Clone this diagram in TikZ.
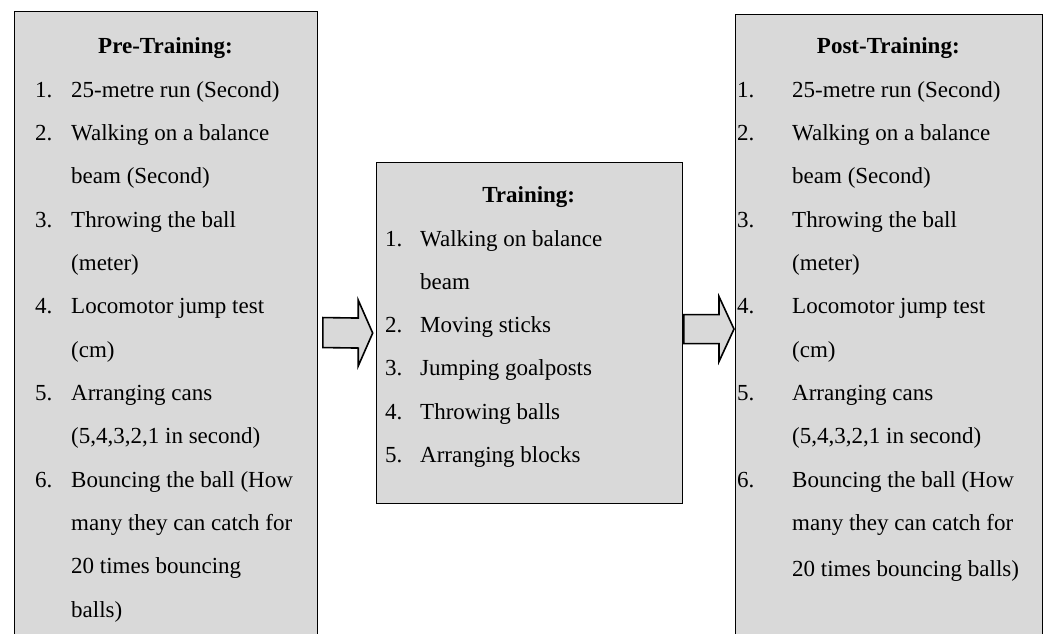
\documentclass[tikz,border=0pt]{standalone}
\usepackage{fontspec}
\setmainfont{Liberation Serif}
\usetikzlibrary{calc}
\definecolor{boxgray}{HTML}{D9D9D9}
\begin{document}
\begin{tikzpicture}[x=1pt,y=-1pt,
  box/.style={draw=black, line width=1.1pt, fill=boxgray, anchor=north west, inner sep=0pt},
  txt/.style={anchor=base west, inner sep=0pt, font=\fontsize{23}{27}\selectfont},
  ttl/.style={anchor=base, inner sep=0pt, font=\fontsize{23}{27}\selectfont\bfseries},
  barrow/.style={draw=black, line width=1.6pt, fill=boxgray, line join=miter}]
\useasboundingbox (0,0) rectangle (1047,634);
% boxes
\node[box, minimum width=303pt, minimum height=642pt] (pre) at (14,11) {};
\node[box, minimum width=306pt, minimum height=341.6pt] (train) at (375.7,161.7) {};
\node[box, minimum width=306.7pt, minimum height=629pt] (post) at (735,14) {};
% block arrows
\coordinate (a1s) at ($(pre.east)+(4.7,0)$);
\coordinate (a1t) at ($(train.west)+(-3,0)$);
\coordinate (a2s) at ($(train.east |- post.west)+(1,0)$);
\coordinate (a2t) at ($(post.west)+(-1,0)$);
\draw[barrow] ($(a1s)+(0,-15)$) -- ($(a1t)+(-14.5,-15)$) -- ($(a1t)+(-14.5,-33)$) -- (a1t)
  -- ($(a1t)+(-14.5,33)$) -- ($(a1t)+(-14.5,15)$) -- ($(a1s)+(0,15)$) -- cycle;
\draw[barrow] ($(a2s)+(0,-14.5)$) -- ($(a2t)+(-15,-14.5)$) -- ($(a2t)+(-15,-32.5)$) -- (a2t)
  -- ($(a2t)+(-15,32.5)$) -- ($(a2t)+(-15,14.5)$) -- ($(a2s)+(0,14.5)$) -- cycle;
% Pre-Training
\node[ttl] (preT) at (165.5,53.7) {Pre-Training:};
\node[txt] (pn1) at (35,97.0) {1.};   \node[txt] (pl1) at (71,97.0) {25-metre run (Second)};
\node[txt] (pn2) at (35,140.4) {2.};  \node[txt] (pl2) at (71,140.4) {Walking on a balance};
                                       \node[txt] (pl3) at (71,183.7) {beam (Second)};
\node[txt] (pn3) at (35,227.1) {3.};  \node[txt] (pl4) at (71,227.1) {Throwing the ball};
                                       \node[txt] (pl5) at (71,270.4) {(meter)};
\node[txt] (pn4) at (35,313.8) {4.};  \node[txt] (pl6) at (71,313.8) {Locomotor jump test};
                                       \node[txt] (pl7) at (71,357.1) {(cm)};
\node[txt] (pn5) at (35,400.5) {5.};  \node[txt] (pl8) at (71,400.5) {Arranging cans};
                                       \node[txt] (pl9) at (71,443.8) {(5,4,3,2,1 in second)};
\node[txt] (pn6) at (35,487.2) {6.};  \node[txt] (pl10) at (71,487.2) {Bouncing the ball (How};
                                       \node[txt] (pl11) at (71,530.5) {many they can catch for};
                                       \node[txt] (pl12) at (71,573.9) {20 times bouncing};
                                       \node[txt] (pl13) at (71,617.2) {balls)};
% Training
\node[ttl] (trT) at (528.7,202) {Training:};
\node[txt] (tn1) at (385,246) {1.};   \node[txt] (tl1) at (420,246) {Walking on balance};
                                       \node[txt] (tl2) at (420,289.3) {beam};
\node[txt] (tn2) at (385,332.6) {2.}; \node[txt] (tl3) at (420,332.6) {Moving sticks};
\node[txt] (tn3) at (385,375.9) {3.}; \node[txt] (tl4) at (420,375.9) {Jumping goalposts};
\node[txt] (tn4) at (385,419.2) {4.}; \node[txt] (tl5) at (420,419.2) {Throwing balls};
\node[txt] (tn5) at (385,462.5) {5.}; \node[txt] (tl6) at (420,462.5) {Arranging blocks};
% Post-Training
\node[ttl] (postT) at (888.3,53.7) {Post-Training:};
\node[txt] (qn1) at (737,97.0) {1.};  \node[txt] (ql1) at (792,97.0) {25-metre run (Second)};
\node[txt] (qn2) at (737,140.4) {2.}; \node[txt] (ql2) at (792,140.4) {Walking on a balance};
                                       \node[txt] (ql3) at (792,183.7) {beam (Second)};
\node[txt] (qn3) at (737,227.1) {3.}; \node[txt] (ql4) at (792,227.1) {Throwing the ball};
                                       \node[txt] (ql5) at (792,270.4) {(meter)};
\node[txt] (qn4) at (737,313.8) {4.}; \node[txt] (ql6) at (792,313.8) {Locomotor jump test};
                                       \node[txt] (ql7) at (792,357.1) {(cm)};
\node[txt] (qn5) at (737,400.5) {5.}; \node[txt] (ql8) at (792,400.5) {Arranging cans};
                                       \node[txt] (ql9) at (792,443.8) {(5,4,3,2,1 in second)};
\node[txt] (qn6) at (737,487.2) {6.}; \node[txt] (ql10) at (792,487.2) {Bouncing the ball (How};
                                       \node[txt] (ql11) at (792,530.5) {many they can catch for};
                                       \node[txt] (ql12) at (792,576) {20 times bouncing balls)};
\end{tikzpicture}
\end{document}
